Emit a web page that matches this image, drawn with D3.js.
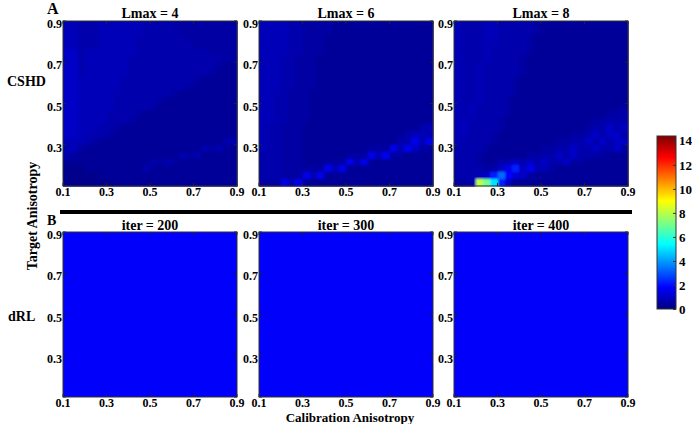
<!DOCTYPE html>
<html>
<head>
<meta charset="utf-8">
<script src="https://cdn.jsdelivr.net/npm/d3@7"></script>
<style>
  body { margin: 0; background: #fff; }
  text { font-family: "Liberation Serif", "Times New Roman", serif; font-weight: bold; fill: #000; }
</style>
</head>
<body>
<div class="chartDiv"></div>
<script>

// ----------------------- data --------------------------------//

// each character in a row string is one cell level
const levelCodes = "0123456789abcdefghi".split("");
const levelValues = [0.2, 0.35, 0.5, 0.65, 0.8, 1.0, 1.2, 1.5, 1.8, 2.2, 2.7, 3.3, 4, 5, 6, 7, 8, 9, 10];

const cshdTitles = ["Lmax = 4", "Lmax = 6", "Lmax = 8"];
const drlTitles = ["iter = 200", "iter = 300", "iter = 400"];
const drlValues = [1.75, 1.75, 1.75];

const xTickValues = [0.1, 0.3, 0.5, 0.7, 0.9];
const yTickValues = [0.3, 0.5, 0.7, 0.9];
const colorTicks = [0, 2, 4, 6, 8, 10, 12, 14];
const colorMax = 14.4;

// rows go from top (0.9) to bottom (0.1), columns from 0.1 to 0.9
const lmax4Rows = [
  "443334444443333222222222",
  "443334444443333322222222",
  "443334444433333332222222",
  "443334444433333333222222",
  "553444444433333333332222",
  "553444444333333333333322",
  "553444444333333333333211",
  "553444444333333333332111",
  "554444443333333333211111",
  "554444443333333332111111",
  "554444433333333211111111",
  "554444433333321111111111",
  "554444433333211111111111",
  "554444333321111111111111",
  "554444333211111111111111",
  "554443321111111111111111",
  "554433211111111111111111",
  "444321111111111111111133",
  "442111111111111111132311",
  "321111111111111132311111",
  "111111111111323211111111",
  "000111111113111111111111",
  "000001111111111111111111",
  "000000011111111111111111"
];

const lmax6Rows = [
  "444433222211111111111111",
  "444433222211111111111111",
  "444433222111111111111111",
  "444433222111111111111111",
  "444433222111111111111111",
  "444332221111111111111111",
  "444332221111111111111111",
  "444332221111111111111111",
  "444332221111111111111111",
  "444332221111111111111111",
  "443322211111111111111111",
  "443322211111111111111111",
  "443322211111111111111111",
  "443322211111111111111111",
  "443322211111111111111111",
  "433222111111111111111134",
  "433222111111111111113443",
  "433222111111111111133747",
  "433222111111111222747522",
  "333222111111222747221111",
  "333222111222747111111111",
  "333222222747111111111111",
  "333222747111111111111111",
  "222747111111111111111111"
];

const lmax8Rows = [
  "433344333332111111111111",
  "433344333332111111111111",
  "433344333321111111111111",
  "433343333321111111111111",
  "433343333321111111111111",
  "433343333211111111111111",
  "433433333211111111111111",
  "433433333211111111111111",
  "433433332111111111111111",
  "433433332111111111111111",
  "433433332111111111111111",
  "433433321111111111111111",
  "434333321111111111111112",
  "434333321111111111111223",
  "443333211111111111122333",
  "443333211111111111233535",
  "443332111111111122353553",
  "433332111111112233535355",
  "333321111111223353353352",
  "333211111122335353322111",
  "333211335353533522111111",
  "333323579574421111111111",
  "333459b86521111111111111",
  "223gfd951111111111111111"
];

const cshdGrids = [lmax4Rows, lmax6Rows, lmax8Rows];

// ----------------------- setup --------------------------------//

const W = 692, H = 424;
const panelX = [63, 259, 454];
const panelW = 174, panelH = 165;
const rowY = [21, 232];

let svg = d3.select(".chartDiv").append("svg")
    .attr("width", W)
    .attr("height", H);

let defs = svg.append("defs");
defs.append("filter")
    .attr("id", "soft")
    .attr("x", 0).attr("y", 0).attr("width", 1).attr("height", 1)
  .append("feGaussianBlur")
    .attr("stdDeviation", 1.3)
    .attr("edgeMode", "duplicate");

// jet colour map
let jetStops = [0, 0.125, 0.375, 0.625, 0.875, 1];
let color = d3.scaleLinear()
    .domain(jetStops.map(t => t * colorMax))
    .range(["#00007f", "#0000ff", "#00ffff", "#ffff00", "#ff0000", "#7f0000"])
    .clamp(true);

let levelOf = {};
levelCodes.forEach((c, i) => levelOf[c] = levelValues[i]);

let x = d3.scaleLinear().domain([0.1, 0.9]).range([0, panelW]);
let y = d3.scaleLinear().domain([0.1, 0.9]).range([panelH, 0]);

function drawFrame(g) {
  // inward ticks on all four sides
  let tickLen = 3;
  xTickValues.forEach(v => {
    g.append("line").attr("x1", x(v)).attr("x2", x(v)).attr("y1", panelH).attr("y2", panelH - tickLen)
      .attr("stroke", "#222").attr("stroke-width", 1);
    g.append("line").attr("x1", x(v)).attr("x2", x(v)).attr("y1", 0).attr("y2", tickLen)
      .attr("stroke", "#222").attr("stroke-width", 1);
    g.append("line").attr("y1", y(v)).attr("y2", y(v)).attr("x1", 0).attr("x2", tickLen)
      .attr("stroke", "#222").attr("stroke-width", 1);
    g.append("line").attr("y1", y(v)).attr("y2", y(v)).attr("x1", panelW).attr("x2", panelW - tickLen)
      .attr("stroke", "#222").attr("stroke-width", 1);
  });
  g.append("rect")
    .attr("width", panelW).attr("height", panelH)
    .attr("fill", "none").attr("stroke", "#333").attr("stroke-width", 1);

  g.selectAll(".xlab").data(xTickValues).enter().append("text")
    .attr("class", "xlab")
    .attr("x", d => x(d))
    .attr("y", panelH + 10)
    .attr("text-anchor", "middle")
    .style("font-size", "12px")
    .text(d => d3.format(".1f")(d));

  g.selectAll(".ylab").data(yTickValues).enter().append("text")
    .attr("class", "ylab")
    .attr("x", -1)
    .attr("y", d => y(d) + 7)
    .attr("text-anchor", "end")
    .style("font-size", "12px")
    .text(d => d3.format(".1f")(d));
}

// ----------------------- CSHD row --------------------------------//

cshdGrids.forEach((rows, p) => {
  let g = svg.append("g").attr("transform", "translate(" + panelX[p] + "," + rowY[0] + ")");
  let nRows = rows.length, nCols = rows[0].length;
  let cells = [];
  rows.forEach((r, i) => r.split("").forEach((c, j) => cells.push({i: i, j: j, v: levelOf[c]})));
  let dx = 0.8 / nCols, dy = 0.8 / nRows;

  g.append("rect").attr("width", panelW).attr("height", panelH).attr("fill", color(0.35));

  g.append("g")
    .attr("filter", "url(#soft)")
    .selectAll("rect").data(cells).enter().append("rect")
    .attr("x", d => x(0.1 + d.j * dx))
    .attr("y", d => y(0.9 - d.i * dy))
    .attr("width", x(0.1 + dx) - x(0.1) + 0.5)
    .attr("height", y(0.9 - dy) - y(0.9) + 0.5)
    .attr("fill", d => color(d.v))
    .attr("shape-rendering", "crispEdges");

  drawFrame(g);

  g.append("text")
    .attr("x", panelW / 2).attr("y", -3)
    .attr("text-anchor", "middle")
    .style("font-size", "14px")
    .text(cshdTitles[p]);
});

// ----------------------- dRL row --------------------------------//

drlValues.forEach((v, p) => {
  let g = svg.append("g").attr("transform", "translate(" + panelX[p] + "," + rowY[1] + ")");
  g.append("rect")
    .attr("x", x(0.1)).attr("y", y(0.9))
    .attr("width", x(0.9) - x(0.1)).attr("height", y(0.1) - y(0.9))
    .attr("fill", color(v));
  drawFrame(g);
  g.append("text")
    .attr("x", panelW / 2).attr("y", -2)
    .attr("text-anchor", "middle")
    .style("font-size", "14px")
    .text(drlTitles[p]);
});

// ----------------------- labels and divider --------------------------------//

svg.append("line")
    .attr("x1", 60).attr("x2", 632)
    .attr("y1", 212).attr("y2", 212)
    .attr("stroke", "#000").attr("stroke-width", 4);

svg.append("text").attr("x", 47).attr("y", 14).style("font-size", "16px").text("A");
svg.append("text").attr("x", 47).attr("y", 225).style("font-size", "14px").text("B");
svg.append("text").attr("x", 7).attr("y", 86).style("font-size", "14px").text("CSHD");
svg.append("text").attr("x", 8).attr("y", 321).style("font-size", "14px").text("dRL");

svg.append("text")
    .attr("transform", "translate(37,216) rotate(-90)")
    .attr("text-anchor", "middle")
    .style("font-size", "14px")
    .text("Target Anisotropy");

svg.append("text")
    .attr("x", 350).attr("y", 422)
    .attr("text-anchor", "middle")
    .style("font-size", "13px")
    .text("Calibration Anisotropy");

// ----------------------- colorbar --------------------------------//

let cbX = 657, cbY = 136, cbW = 19, cbH = 173;
let cScale = d3.scaleLinear().domain([0, colorMax]).range([cbY + cbH, cbY]);

let grad = defs.append("linearGradient")
    .attr("id", "jetGrad")
    .attr("x1", 0).attr("y1", 1).attr("x2", 0).attr("y2", 0);
grad.selectAll("stop").data(jetStops).enter().append("stop")
    .attr("offset", d => d)
    .attr("stop-color", d => color(d * colorMax));

svg.append("rect")
    .attr("x", cbX).attr("y", cbY).attr("width", cbW).attr("height", cbH)
    .attr("fill", "url(#jetGrad)")
    .attr("stroke", "#333").attr("stroke-width", 1);

let cbAxis = d3.axisRight(cScale).tickValues(colorTicks).tickSize(-3).tickPadding(3);
let cbG = svg.append("g")
    .attr("transform", "translate(" + (cbX + cbW) + ",0)")
    .call(cbAxis);
cbG.select(".domain").remove();
cbG.selectAll("line").attr("stroke", "#333");
cbG.selectAll("text")
    .style("font-family", "'Liberation Serif', serif")
    .style("font-weight", "bold")
    .style("font-size", "13px")
    .attr("fill", "#000");

</script>
</body>
</html>
